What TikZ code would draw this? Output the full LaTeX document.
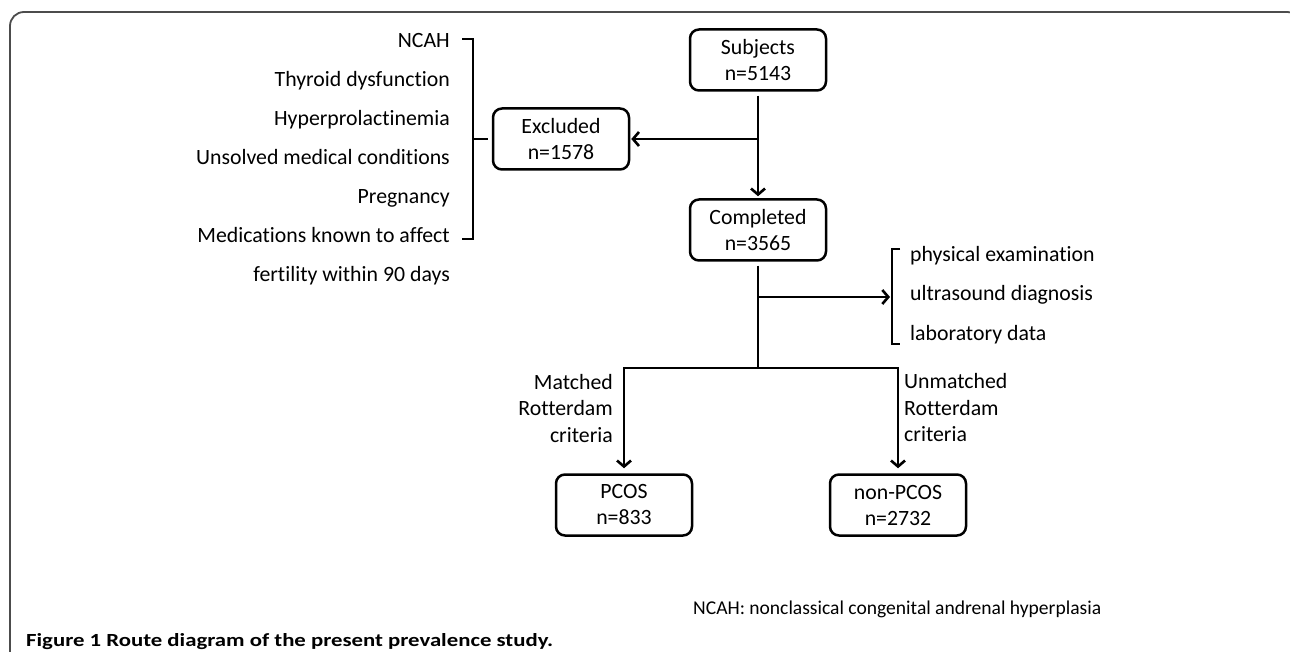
\documentclass[tikz,border=0pt]{standalone}
\usepackage{fontspec}
\setmainfont{Carlito}[Ligatures=NoCommon]
\usetikzlibrary{arrows.meta}
\newcommand{\fsz}{\fontsize{21.8}{26}\selectfont}
\begin{document}
\begin{tikzpicture}[x=1pt,y=-1pt,
  box/.style={draw, line width=2.5pt, rounded corners=9pt, minimum width=136pt, minimum height=61pt, align=center, font=\fsz, inner sep=2pt},
  arr/.style={line width=2.7pt, -{Straight Barb[length=6pt,width=14pt,line width=2.6pt]}},
  ln/.style={line width=2.7pt},
  lbl/.style={font=\fsz, inner sep=0pt},
  frame/.style={line width=1.8pt, draw=black!70, rounded corners=14pt}
]
\useasboundingbox (0,0) rectangle (1290,652);
\clip (0,0) rectangle (1290,652);
\draw[frame] (10,670) -- (10,12) -- (1301,12) -- (1301,670);

% boxes
\node[box] (subj) at (758,60) {Subjects\\n=5143};
\node[box] (excl) at (561,139) {Excluded\\n=1578};
\node[box] (comp) at (758,230) {Completed\\n=3565};
\node[box] (pcos) at (624,505) {PCOS\\n=833};
\node[box] (npcos) at (898,505) {non-PCOS\\n=2732};

% junctions
\coordinate (j1) at (758,139);
\coordinate (j2) at (758,297);
\coordinate (j3) at (758,368);
\coordinate (rb) at (892,297);
\coordinate (lb) at (473,139);

% connectors
\draw[arr, shorten <=4pt, shorten >=2pt] (subj.south) -- (comp.north);
\draw[arr, shorten >=1pt] (j1) -- (excl.east);
\draw[ln, shorten <=4pt] (comp.south) -- (j3);
\draw[arr, shorten >=2pt] (j2) -- (rb);
\draw[arr, shorten >=5pt] (j3) -| (pcos.north);
\draw[arr, shorten >=5pt] (j3) -| (npcos.north);

% brackets
\draw[ln] (462,39) -- (473,39) -- (473,239) -- (462,239);
\draw[ln, shorten >=4pt] (lb) -- (excl.west);
\draw[ln] (900,249) -- (892,249) -- (892,344) -- (900,344);

% left list
\node[lbl, anchor=base east] (t1) at (450,48) {NCAH};
\node[lbl, anchor=base east] (t2) at (450,87) {Thyroid dysfunction};
\node[lbl, anchor=base east] (t3) at (450,126) {Hyperprolactinemia};
\node[lbl, anchor=base east] (t4) at (450,165) {Unsolved medical conditions};
\node[lbl, anchor=base east] (t5) at (450,204) {Pregnancy};
\node[lbl, anchor=base east] (t6) at (450,243) {Medications known to affect};
\node[lbl, anchor=base east] (t7) at (450,282) {fertility within 90 days};

% right list
\node[lbl, anchor=base west] (r1) at (910,262) {physical examination};
\node[lbl, anchor=base west] (r2) at (910,301) {ultrasound diagnosis};
\node[lbl, anchor=base west] (r3) at (910,340) {laboratory data};

% branch labels
\node[lbl, anchor=base east] (m1) at (613,389) {Matched};
\node[lbl, anchor=base east] (m2) at (613,415) {Rotterdam};
\node[lbl, anchor=base east] (m3) at (613,442) {criteria};
\node[lbl, anchor=base west] (u1) at (904,388) {Unmatched};
\node[lbl, anchor=base west] (u2) at (904,415) {Rotterdam};
\node[lbl, anchor=base west] (u3) at (904,441) {criteria};

% footnote and caption
\node[inner sep=0pt, anchor=base west] (foot) at (693,614) {\resizebox{408pt}{!}{\fontsize{20}{24}\selectfont NCAH: nonclassical congenital andrenal hyperplasia}};
\node[inner sep=0pt, anchor=base west] (cap) at (26,646) {\resizebox{527pt}{13pt}{\fontsize{22}{26}\selectfont\bfseries Figure 1 Route diagram of the present prevalence study.}};
\end{tikzpicture}
\end{document}
